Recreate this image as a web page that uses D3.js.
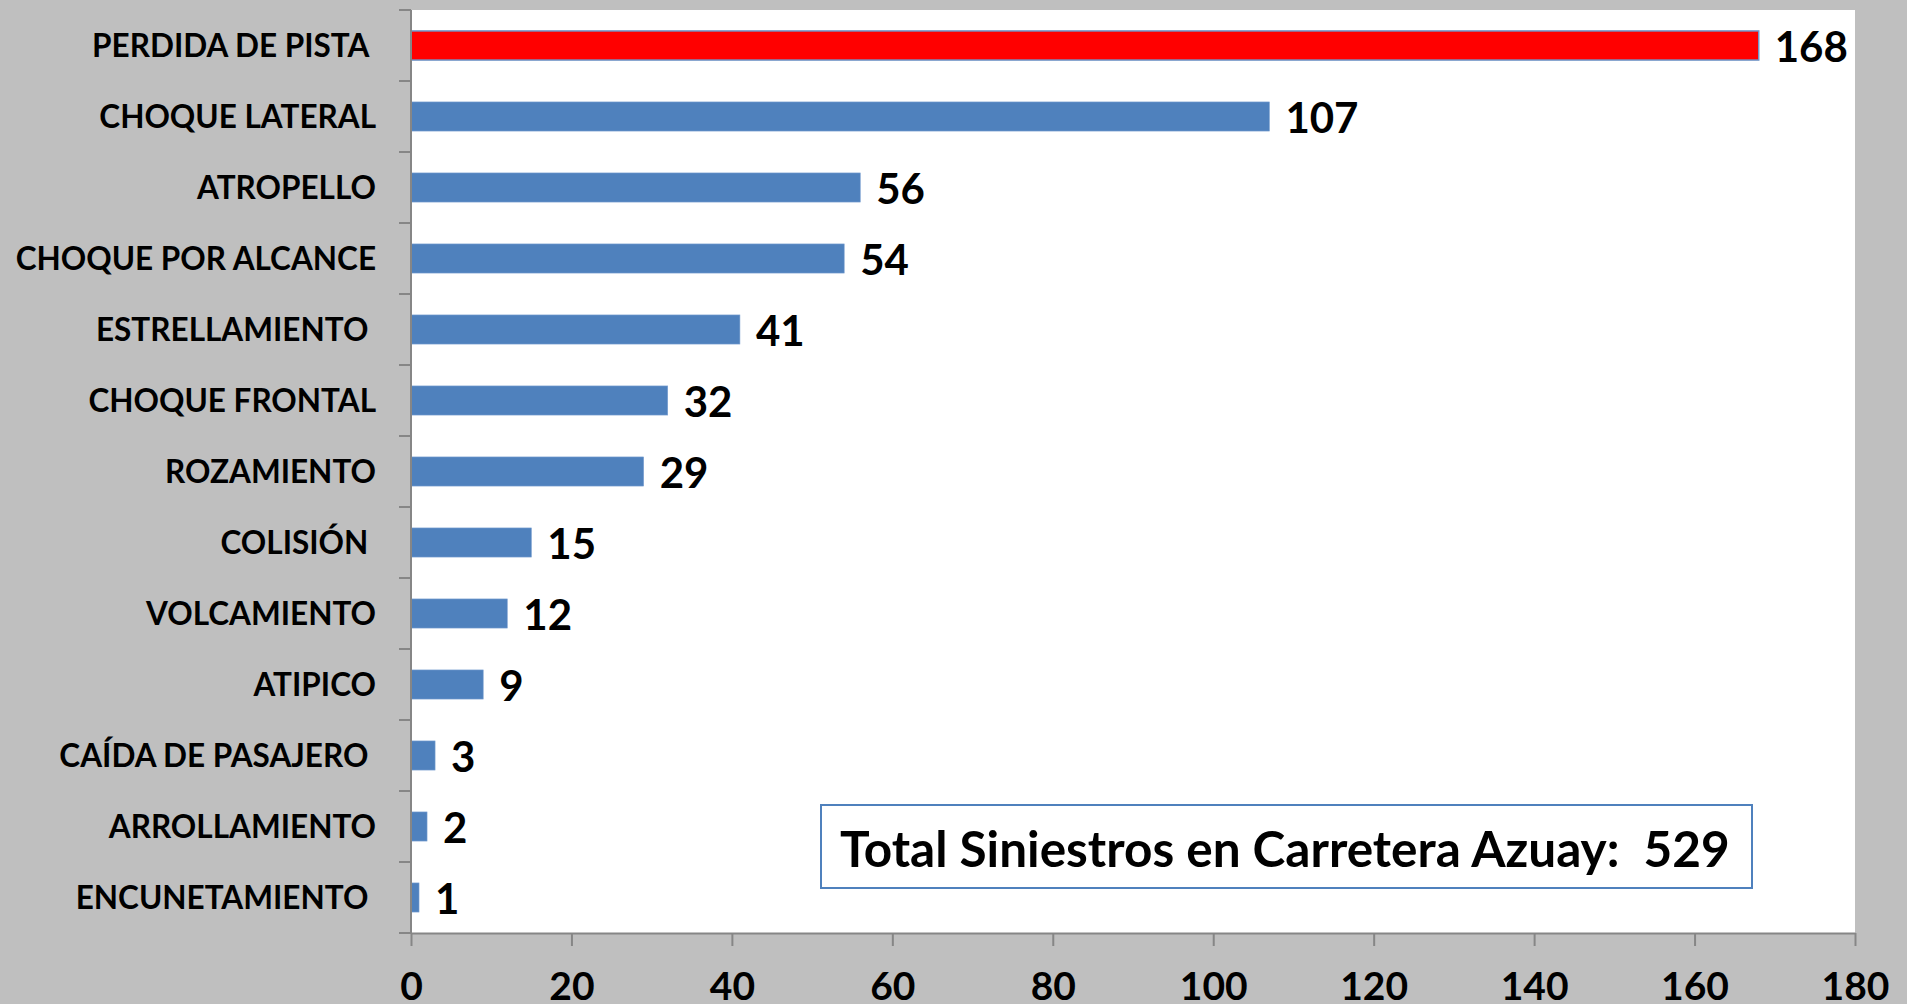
<!DOCTYPE html>
<html>
<head>
<meta charset="utf-8">
<script src="https://cdn.jsdelivr.net/npm/d3@7"></script>
<style>
  html, body { margin: 0; padding: 0; background: #bfbfbf; overflow: hidden; }
  text { font-family: Lato, "Open Sans", sans-serif; font-weight: bold; fill: #000; white-space: pre; }
</style>
</head>
<body>
<div class="chart"></div>
<script>
// categories top to bottom, some have a trailing space in the original sheet
var categories = [
  'PERDIDA DE PISTA ', 'CHOQUE LATERAL', 'ATROPELLO', 'CHOQUE POR ALCANCE',
  'ESTRELLAMIENTO ', 'CHOQUE FRONTAL', 'ROZAMIENTO', 'COLISIÓN ',
  'VOLCAMIENTO', 'ATIPICO', 'CAÍDA DE PASAJERO ', 'ARROLLAMIENTO', 'ENCUNETAMIENTO '
];
var values = [168, 107, 56, 54, 41, 32, 29, 15, 12, 9, 3, 2, 1];
var xTicks = [0, 20, 40, 60, 80, 100, 120, 140, 160, 180];
var totalLabel = 'Total Siniestros en Carretera Azuay:  529';

var width = 1907, height = 1004;
var margin = { top: 10, right: 52, bottom: 71, left: 411 };
var innerW = width - margin.left - margin.right,
    innerH = height - margin.top - margin.bottom;

var svg = d3.select('.chart')
  .append('svg')
    .attr('width', width)
    .attr('height', height);

var g = svg.append('g')
  .attr('transform', 'translate(' + margin.left + ',' + margin.top + ')');

var x = d3.scaleLinear().domain([0, 180]).range([0, innerW]);
var y = d3.scaleBand().domain(categories).range([0, innerH])
  .paddingInner(0.59).paddingOuter(0.295);

// white plot area
g.append('rect')
  .attr('width', innerW)
  .attr('height', innerH)
  .attr('fill', '#fff');

// bars
g.selectAll('.bar')
    .data(values)
  .enter().append('rect')
    .attr('class', 'bar')
    .attr('x', x(0))
    .attr('y', function(d, i) { return y(categories[i]); })
    .attr('width', function(d) { return x(d) - x(0); })
    .attr('height', y.bandwidth())
    .attr('fill', function(d, i) { return i === 0 ? '#ff0000' : '#4f81bd'; })
    .attr('stroke', function(d, i) { return i === 0 ? '#6f95c8' : '#7a9fd0'; })
    .attr('stroke-width', function(d, i) { return i === 0 ? 1.5 : 0.6; });

// value labels
g.selectAll('.val')
    .data(values)
  .enter().append('text')
    .attr('class', 'val')
    .attr('x', function(d) { return x(d) + 16; })
    .attr('y', function(d, i) { return y(categories[i]) + y.bandwidth() / 2 + 16; })
    .style('font-size', '42px')
    .text(function(d) { return d; });

// y axis: line + ticks at band boundaries
var step = y.step();
g.append('line')
  .attr('x1', 0).attr('x2', 0)
  .attr('y1', 0).attr('y2', innerH)
  .attr('stroke', '#868686').attr('stroke-width', 2);
d3.range(categories.length + 1).forEach(function(i) {
  g.append('line')
    .attr('x1', -12).attr('x2', 0)
    .attr('y1', i * step).attr('y2', i * step)
    .attr('stroke', '#868686').attr('stroke-width', 2);
});

// category labels
g.selectAll('.cat')
    .data(categories)
  .enter().append('text')
    .attr('class', 'cat')
    .attr('x', -35)
    .attr('y', function(d) { return y(d) + y.bandwidth() / 2 + 11; })
    .attr('text-anchor', 'end')
    .style('font-size', '31.5px')
    .text(function(d) { return d; });

// x axis
var xAxis = g.append('g')
  .attr('transform', 'translate(0,' + innerH + ')')
  .call(d3.axisBottom(x).tickValues(xTicks).tickSize(13).tickPadding(26).tickSizeOuter(0));
xAxis.select('.domain').attr('stroke', '#868686').attr('stroke-width', 2);
xAxis.selectAll('.tick line').attr('stroke', '#868686').attr('stroke-width', 2);
xAxis.selectAll('.tick text')
  .attr('fill', '#000')
  .style('font-size', '39px')
  .style('font-family', 'Lato, sans-serif')
  .style('font-weight', 'bold');

// total box
svg.append('rect')
  .attr('x', 821).attr('y', 805)
  .attr('width', 931).attr('height', 83)
  .attr('fill', '#fff')
  .attr('stroke', '#4f81bd').attr('stroke-width', 2);
svg.append('text')
  .attr('x', 840).attr('y', 867)
  .style('font-size', '49.5px')
  .text(totalLabel);
</script>
</body>
</html>
